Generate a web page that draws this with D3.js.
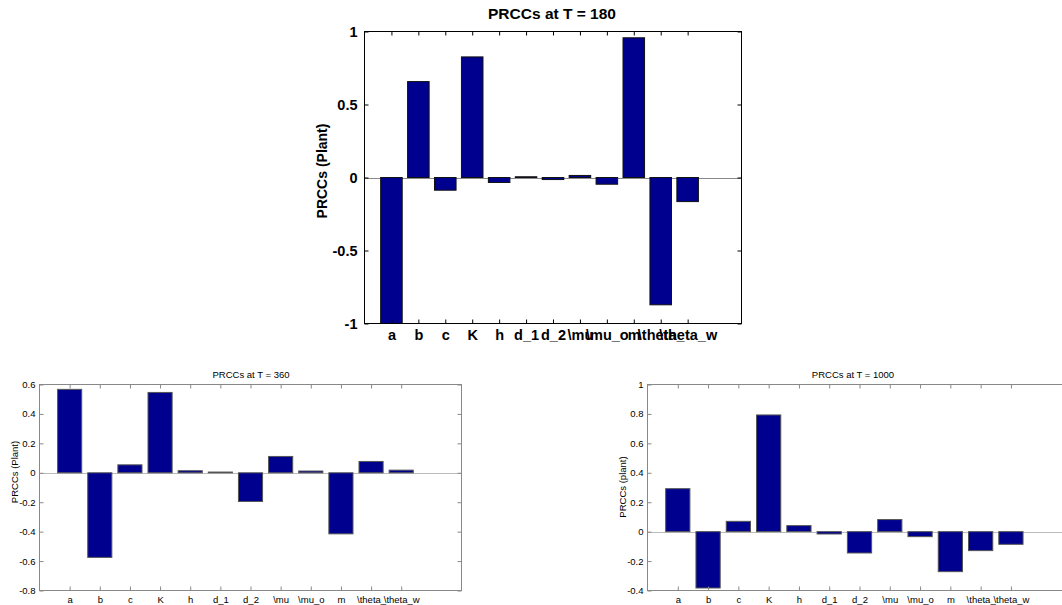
<!DOCTYPE html>
<html>
<head>
<meta charset="utf-8">
<script src="https://cdn.jsdelivr.net/npm/d3@7"></script>
<style>
  body { margin: 0; background: #fff; }
  svg { display: block; font-family: "Liberation Sans", Arial, sans-serif; }
</style>
</head>
<body>
<svg id="chart" width="1062" height="605"></svg>
<script>
// Parameter names on the x axis (same for all three panels)
const params = ["a", "b", "c", "K", "h", "d_1", "d_2", "\\mu", "\\mu_o", "m", "\\theta_", "\\theta_w"];

// PRCC values
const prcc180 = [-1, 0.657, -0.087, 0.826, -0.034, 0.005, -0.014, 0.014, -0.046, 0.957, -0.872, -0.165];
const prcc360 = [0.567, -0.575, 0.054, 0.546, 0.014, 0.005, -0.195, 0.111, 0.012, -0.415, 0.077, 0.018];
const prcc1000 = [0.292, -0.383, 0.07, 0.793, 0.041, -0.016, -0.145, 0.082, -0.034, -0.272, -0.129, -0.086];

// Y tick values
const yTicks180 = [-1, -0.5, 0, 0.5, 1];
const yTicks360 = [-0.8, -0.6, -0.4, -0.2, 0, 0.2, 0.4, 0.6];
const yTicks1000 = [-0.4, -0.2, 0, 0.2, 0.4, 0.6, 0.8, 1];

const svg = d3.select("#chart");
const barColor = "#00008f";

function drawPanel(opt) {
  const g = svg.append("g");

  const x = d3.scaleLinear().domain([0, params.length + 2]).range([opt.left, opt.right]);
  const y = d3.scaleLinear().domain(opt.yDomain).range([opt.bottom, opt.top]);
  const fmt = d => String(+d.toFixed(2));
  const xTicks = params.map((p, i) => i + 1);
  const weight = opt.bold ? "bold" : "normal";

  // zero line
  g.append("line")
    .attr("x1", opt.left).attr("x2", opt.right)
    .attr("y1", Math.round(y(0)) + 0.5).attr("y2", Math.round(y(0)) + 0.5)
    .attr("stroke", opt.zeroColor)
    .attr("stroke-width", 1);

  // bars
  const bw = x(0.8) - x(0);
  g.selectAll(".bar")
    .data(opt.values)
    .enter()
    .append("rect")
    .attr("class", "bar")
    .attr("x", (d, i) => x(i + 1) - bw / 2)
    .attr("y", d => y(Math.max(0, d)))
    .attr("width", bw)
    .attr("height", d => Math.abs(y(d) - y(0)))
    .attr("fill", barColor)
    .attr("stroke", opt.barStroke)
    .attr("stroke-width", 1);

  // axes with inward ticks
  const left = g.append("g")
    .attr("transform", "translate(" + opt.left + ",0)")
    .call(d3.axisLeft(y).tickValues(opt.yTicks).tickFormat(fmt).tickSize(-opt.tick).tickPadding(opt.yPad));
  const right = g.append("g")
    .attr("transform", "translate(" + opt.right + ",0)")
    .call(d3.axisRight(y).tickValues(opt.yTicks).tickFormat("").tickSize(-opt.tick));
  const top = g.append("g")
    .attr("transform", "translate(0," + opt.top + ")")
    .call(d3.axisTop(x).tickValues(xTicks).tickFormat("").tickSize(-opt.tick));
  const bottom = g.append("g")
    .attr("transform", "translate(0," + opt.bottom + ")")
    .call(d3.axisBottom(x).tickValues(xTicks).tickFormat(i => params[i - 1]).tickSize(-opt.tick).tickPadding(opt.xPad));

  [left, right, top, bottom].forEach(a => {
    a.select(".domain").remove();
    a.selectAll("line").attr("stroke", opt.frameColor);
    a.selectAll("text")
      .attr("fill", "#000")
      .style("font-family", "Liberation Sans, Arial, sans-serif")
      .style("font-size", opt.fontSize + "px")
      .style("font-weight", weight);
  });

  // frame
  g.append("rect")
    .attr("x", opt.left).attr("y", opt.top)
    .attr("width", opt.right - opt.left).attr("height", opt.bottom - opt.top)
    .attr("fill", "none")
    .attr("stroke", opt.frameColor)
    .attr("stroke-width", 1);

  // title
  g.append("text")
    .attr("x", opt.titleX)
    .attr("y", opt.titleY)
    .attr("text-anchor", "middle")
    .style("font-size", opt.titleSize + "px")
    .style("font-weight", weight)
    .text(opt.title);

  // y label
  g.append("text")
    .attr("transform", "translate(" + opt.ylabelX + "," + opt.ylabelY + ") rotate(-90)")
    .attr("text-anchor", "middle")
    .attr("dy", "0.35em")
    .style("font-size", opt.labelSize + "px")
    .style("font-weight", weight)
    .text(opt.ylabel);
}

drawPanel({
  values: prcc180, yDomain: [-1, 1], yTicks: yTicks180,
  left: 364.5, right: 741.5, top: 31.5, bottom: 323.5,
  title: "PRCCs at T = 180", titleX: 552, titleY: 19,
  ylabel: "PRCCs (Plant)", ylabelX: 322, ylabelY: 171,
  fontSize: 14.5, titleSize: 15.5, labelSize: 14, bold: true, tick: 4, yPad: 7, xPad: 6,
  frameColor: "#000", zeroColor: "#888", barStroke: "#111"
});

drawPanel({
  values: prcc360, yDomain: [-0.8, 0.6], yTicks: yTicks360,
  left: 39.5, right: 461.5, top: 384.5, bottom: 590.5,
  title: "PRCCs at T = 360", titleX: 251, titleY: 377.5,
  ylabel: "PRCCs (Plant)", ylabelX: 15, ylabelY: 472,
  fontSize: 9.5, titleSize: 9.5, labelSize: 9.5, bold: false, tick: 4, yPad: 4, xPad: 6,
  frameColor: "#888", zeroColor: "#bbb", barStroke: "#555"
});

drawPanel({
  values: prcc1000, yDomain: [-0.4, 1], yTicks: yTicks1000,
  left: 647.5, right: 1071.5, top: 384.5, bottom: 590.5,
  title: "PRCCs at T = 1000", titleX: 853, titleY: 377.5,
  ylabel: "PRCCs (plant)", ylabelX: 623, ylabelY: 487,
  fontSize: 9.5, titleSize: 9.5, labelSize: 9.5, bold: false, tick: 4, yPad: 4, xPad: 6,
  frameColor: "#888", zeroColor: "#bbb", barStroke: "#555"
});
</script>
</body>
</html>
